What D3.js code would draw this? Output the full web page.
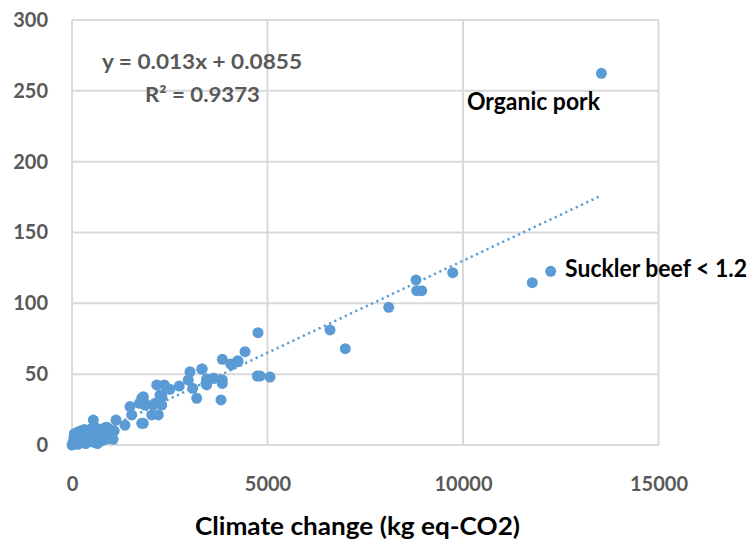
<!DOCTYPE html>
<html><head><meta charset="utf-8">
<script src="https://cdn.jsdelivr.net/npm/d3@7"></script>
<style>
html,body{margin:0;padding:0;background:#fff;}
svg{display:block;font-family:Lato,"Open Sans",sans-serif;}
</style></head>
<body>
<svg id="chart" width="753" height="546"></svg>
<script>
// Climate change (kg eq-CO2) values
const climateX = [
  0,30,50,60,80,100,120,140,150,180,200,220,250,280,300,320,350,380,400,420,
  450,480,500,520,550,580,600,620,650,680,700,720,750,780,800,830,860,900,930,960,1000,1050,1080,
  545,630,930,887,1125,1355,
  1483,1527,1721,1783,1783,1824,1824,1867,1867,2038,2079,2123,2166,2207,2251,2294,2302,2361,2422,2506,
  2744,2974,3018,3087,3189,3317,3332,3427,3444,3444,3614,3632,3811,3828,3844,3844,3844,
  4059,4084,4238,4246,4425,4739,4757,4808,5064,
  6598,6990,8100,8798,8816,8944,9737,11772,12243,13540
];
// second indicator values
const indicatorY = [
  0,2,5,8,1,3,6,9,0.5,4,7,10,2,5,8,11,1,4,7,10,
  3,6,9,12,2,5,8,11,1,4,7,10,3,6,9,12,4,7,10,5,8,4,10,
  17.6,11.8,11.8,12.5,17.6,14,
  27.1,21.2,29.4,15.3,33.0,34.1,15.3,29.4,28.2,21.2,28.2,29.4,42.4,21.2,35.3,28.2,34.1,42.4,40.0,39.3,
  41.6,45.9,51.7,40.0,33.0,53.6,53.6,43.5,46.6,42.4,47.1,47.1,31.8,45.9,60.5,45.9,43.5,
  57.2,56.5,59.5,58.8,65.9,48.7,79.3,48.7,48.0,
  81.2,68.0,97.2,116.5,108.9,108.9,121.6,114.6,122.6,262.4
];
const xTicks = [0,5000,10000,15000];
const yTicks = [0,50,100,150,200,250,300];
const trendSlope = 0.013, trendIntercept = 0.0855;
const trendRange = [0, 13540];
const equationLines = ["y = 0.013x + 0.0855", "R² = 0.9373"];
const annotations = [
  {label:"Organic pork", x:10100, y:236.5},
  {label:"Suckler beef < 1.2", x:12610, y:118.5}
];
const xTitle = "Climate change (kg eq-CO2)";

const svg = d3.select("#chart");
const x = d3.scaleLinear().domain([0,15000]).range([72,658.5]);
const y = d3.scaleLinear().domain([0,300]).range([445,20]);
const blue = "#5B9BD5", grid = "#d9d9d9", tickCol = "#595959";

// gridlines
svg.append("g").selectAll("line").data(yTicks).join("line")
  .attr("x1", x(0)).attr("x2", x(15000))
  .attr("y1", d=>y(d)).attr("y2", d=>y(d))
  .attr("stroke", grid).attr("stroke-width", 2);
svg.append("g").selectAll("line").data(xTicks).join("line")
  .attr("x1", d=>x(d)).attr("x2", d=>x(d))
  .attr("y1", y(0)).attr("y2", y(300))
  .attr("stroke", grid).attr("stroke-width", 2);

// axes
const gy = svg.append("g").attr("transform",`translate(${x(0)},0)`)
  .call(d3.axisLeft(y).tickValues(yTicks).tickSize(0).tickPadding(24));
const gx = svg.append("g").attr("transform",`translate(0,${y(0)})`)
  .call(d3.axisBottom(x).tickValues(xTicks).tickSize(0).tickPadding(32).tickFormat(d3.format("d")));
[gx,gy].forEach(g=>{
  g.select(".domain").remove();
  g.selectAll("text").attr("fill", tickCol).attr("font-size", 20)
    .attr("font-weight", "bold").attr("font-family", "Lato, sans-serif");
});

// trendline
svg.append("line")
  .attr("x1", x(trendRange[0])).attr("y1", y(trendSlope*trendRange[0]+trendIntercept))
  .attr("x2", x(trendRange[1])).attr("y2", y(trendSlope*trendRange[1]+trendIntercept))
  .attr("stroke", blue).attr("stroke-width", 2.5).attr("stroke-dasharray", "2.2,3.6");

// points
const pts = climateX.map((v,i)=>({x:v, y:indicatorY[i]}));
svg.append("g").selectAll("circle").data(pts).join("circle")
  .attr("cx", d=>x(d.x)).attr("cy", d=>y(d.y)).attr("r", 5.5)
  .attr("fill", blue);

// equation
svg.append("text").attr("x", 102).attr("y", 68.5)
  .attr("font-size", 21).attr("font-weight","bold").attr("fill", tickCol)
  .attr("textLength", 200).attr("lengthAdjust","spacingAndGlyphs")
  .text(equationLines[0]);
svg.append("text").attr("x", 145).attr("y", 101.5)
  .attr("font-size", 21).attr("font-weight","bold").attr("fill", tickCol)
  .attr("textLength", 115).attr("lengthAdjust","spacingAndGlyphs")
  .text(equationLines[1]);

// annotations
const annW = [133, 182];
svg.append("g").selectAll("text").data(annotations).join("text")
  .attr("x", d=>x(d.x)).attr("y", d=>y(d.y))
  .attr("font-size", 24).attr("font-weight","bold").attr("fill","#000")
  .attr("textLength", (d,i)=>annW[i]).attr("lengthAdjust","spacingAndGlyphs")
  .text(d=>d.label);

// x title
svg.append("text").attr("x", 195).attr("y", 535)
  .attr("font-size", 24).attr("font-weight","bold").attr("fill","#000")
  .attr("textLength", 325).attr("lengthAdjust","spacingAndGlyphs")
  .text(xTitle);
</script>
</body></html>
